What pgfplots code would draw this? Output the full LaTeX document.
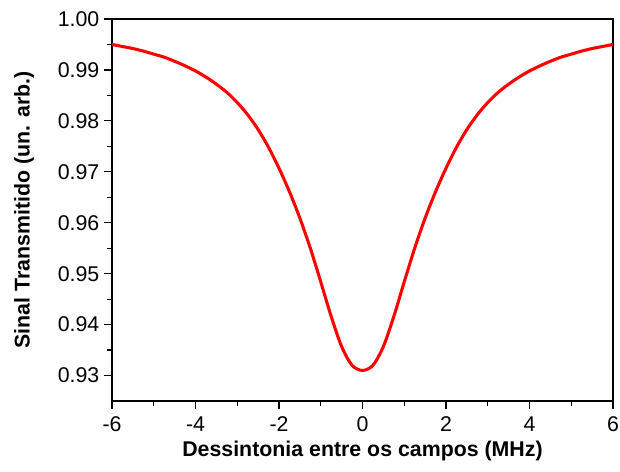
\documentclass[border=0pt]{standalone}
\usepackage{fontspec}
\setmainfont{Liberation Sans}
\usepackage{pgfplots}
\pgfplotsset{compat=1.18}
\begin{document}
\begin{tikzpicture}
\begin{axis}[
    name=ax,
    scale only axis,
    width=375.75pt, height=286.5pt,
    xmin=-6, xmax=6, ymin=0.925, ymax=1.00,
    xtick={-6,-4,...,6}, ytick={0.93,0.94,...,1.001},
    minor x tick num=1, minor y tick num=1,
    tick align=outside, tick pos=left,
    major tick length=6pt, minor tick length=3.5pt,
    every tick/.style={black, line width=0.9pt},
    axis line style={line width=0.9pt},
    /pgf/number format/assume math mode=true,
    yticklabel style={/pgf/number format/fixed, /pgf/number format/fixed zerofill, /pgf/number format/precision=2},
    ticklabel style={font=\fontsize{16}{19}\selectfont},
    xticklabel style={anchor=base, yshift=-17pt},
    label style={font=\fontsize{16}{19}\selectfont\bfseries},
    xlabel={Dessintonia entre os campos (MHz)},
    ylabel={Sinal Transmitido (un. arb.)},
    xlabel style={at={(axis description cs:0.5,-0.1445)}, anchor=base},
    ylabel style={at={(axis description cs:-0.1756,0.5)}, anchor=center},
    scaled y ticks=false,
]
\addplot[color=red, line width=2.3pt, smooth] coordinates {
(-6.0,0.9950) (-5.75,0.9946) (-5.5,0.9942) (-5.25,0.9937) (-5.0,0.9931)
(-4.75,0.9925) (-4.5,0.9917) (-4.25,0.9908) (-4.0,0.9898) (-3.75,0.9886)
(-3.5,0.9872) (-3.25,0.9856) (-3.0,0.9836) (-2.75,0.9812) (-2.5,0.9783)
(-2.25,0.9748) (-2.0,0.9707) (-1.75,0.9661) (-1.5,0.9609) (-1.25,0.9550)
(-1.0,0.9484) (-0.75,0.9416) (-0.5,0.9357) (-0.25,0.9320) (0.0,0.9310)
(0.25,0.9320) (0.5,0.9357) (0.75,0.9416) (1.0,0.9484) (1.25,0.9550)
(1.5,0.9609) (1.75,0.9661) (2.0,0.9707) (2.25,0.9748) (2.5,0.9783)
(2.75,0.9812) (3.0,0.9836) (3.25,0.9856) (3.5,0.9872) (3.75,0.9886)
(4.0,0.9898) (4.25,0.9908) (4.5,0.9917) (4.75,0.9925) (5.0,0.9931)
(5.25,0.9937) (5.5,0.9942) (5.75,0.9946) (6.0,0.9950)
};
\end{axis}
\pgfresetboundingbox
\path[use as bounding box] ([shift={(-84pt,-53.25pt)}]ax.south west) rectangle ([shift={(5.25pt,14.25pt)}]ax.north east);
\end{tikzpicture}
\end{document}
